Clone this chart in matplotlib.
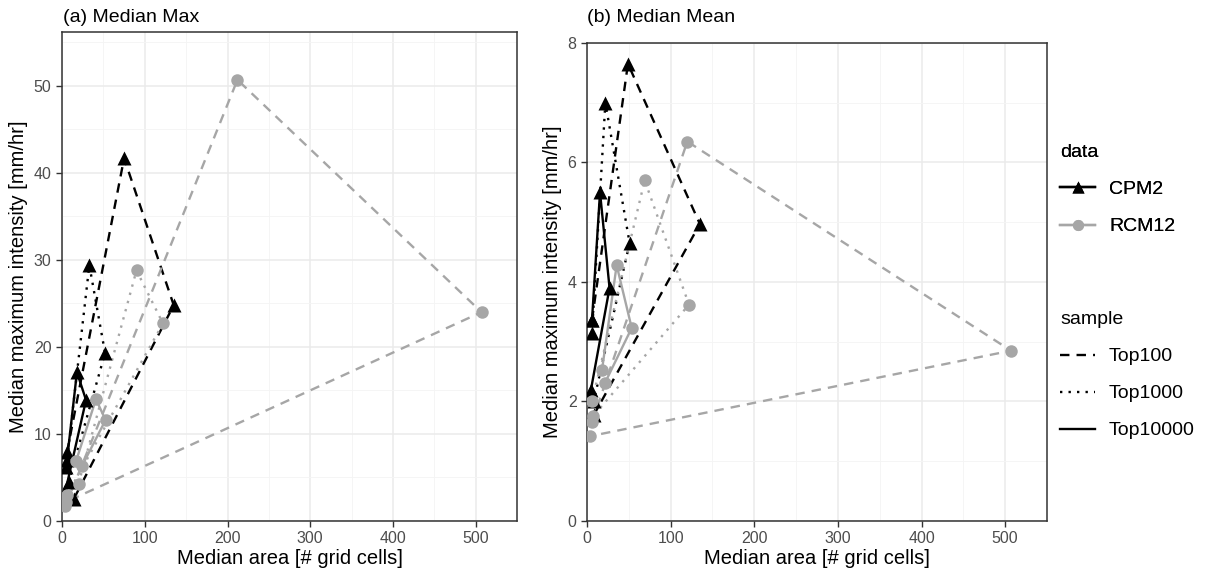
import numpy as np
import matplotlib.pyplot as plt
from matplotlib.lines import Line2D

plt.rcParams['font.family'] = ['Liberation Sans', 'DejaVu Sans']

samples = ['Top100', 'Top1000', 'Top10000']
datasets = ['CPM2', 'RCM12']

# panel (a) median max, 4 points per sample
max_cpm2_area = [[6, 75, 135, 14], [5, 33, 52, 8], [6, 18, 29, 4]]
max_cpm2_int = [[7.9, 41.7, 24.8, 2.5], [6.2, 29.4, 19.3, 4.5], [7.0, 17.1, 13.9, 3.4]]
max_rcm12_area = [[4, 212, 507, 5], [20, 90, 122, 6], [17, 41, 52.6, 24]]
max_rcm12_int = [[1.7, 50.7, 24.0, 2.2], [4.3, 28.8, 22.7, 3.0], [6.9, 14.0, 11.6, 6.3]]

# panel (b) median mean
mean_cpm2_area = [[6, 49, 135, 8], [6, 22, 51, 8], [6, 15.6, 27, 4.8]]
mean_cpm2_int = [[3.36, 7.65, 4.97, 1.77], [3.14, 7.0, 4.65, 2.0], [3.36, 5.5, 3.9, 2.2]]
mean_rcm12_area = [[6, 120, 507, 4], [6, 69, 122, 7], [18, 35.5, 53.5, 21.5]]
mean_rcm12_int = [[1.65, 6.35, 2.85, 1.42], [2.0, 5.7, 3.62, 1.75], [2.53, 4.28, 3.23, 2.31]]

colors = {'CPM2': 'black', 'RCM12': '#a6a6a6'}
markers = {'CPM2': '^', 'RCM12': 'o'}
msize = {'CPM2': 10, 'RCM12': 9}
styles = {'Top100': (0, (4, 3)), 'Top1000': (0, (1, 2.6)), 'Top10000': '-'}

fig = plt.figure(figsize=(12.07, 5.76), dpi=100)
ax_a = fig.add_axes([0.0514, 0.0955, 0.3770, 0.849])
ax_b = fig.add_axes([0.4863, 0.0955, 0.3811, 0.830])

panels = [
    (ax_a, '(a) Median Max', {'CPM2': (max_cpm2_area, max_cpm2_int),
                              'RCM12': (max_rcm12_area, max_rcm12_int)},
     56.2, np.arange(0, 51, 10), np.arange(5, 56, 10), 544),
    (ax_b, '(b) Median Mean', {'CPM2': (mean_cpm2_area, mean_cpm2_int),
                               'RCM12': (mean_rcm12_area, mean_rcm12_int)},
     8.0, np.arange(0, 9, 2), np.arange(1, 8, 2), 550),
]

for ax, title, data, ymax, yt, ymin_t, xmax in panels:
    ax.set_xlim(0, xmax)
    ax.set_ylim(0, ymax)
    ax.set_xticks(np.arange(0, 501, 100))
    ax.set_xticks(np.arange(50, 551, 100), minor=True)
    ax.set_yticks(yt)
    ax.set_yticks(ymin_t, minor=True)
    ax.grid(True, which='major', color='#ebebeb', lw=1.1, zorder=0)
    ax.grid(True, which='minor', color='#f4f4f4', lw=0.6, zorder=0)
    ax.set_axisbelow(True)
    ax.tick_params(which='minor', length=0)
    ax.tick_params(which='major', length=4, width=1, color='#333333',
                   labelcolor='#4d4d4d', labelsize=11.5)
    for s in ax.spines.values():
        s.set_color('#333333')
        s.set_linewidth(1.1)
    ax.set_xlabel('Median area [# grid cells]', fontsize=14.5, labelpad=2)
    ax.set_ylabel('Median maximum intensity [mm/hr]', fontsize=14.5, labelpad=4)

    for d in datasets:
        xs, ys = data[d]
        for i, s in enumerate(samples):
            ax.plot(xs[i], ys[i], color=colors[d], ls=styles[s], lw=1.7, zorder=2)
    for d in datasets:
        xs, ys = data[d]
        for i, s in enumerate(samples):
            ax.plot(xs[i], ys[i], ls='none', marker=markers[d], ms=msize[d],
                    color=colors[d], mec='none', zorder=3)

fig.text(63 / 1207, 1 - 18 / 576, '(a) Median Max', fontsize=14, va='center', ha='left')
fig.text(587 / 1207, 1 - 18 / 576, '(b) Median Mean', fontsize=14, va='center', ha='left')

data_handles = [Line2D([], [], color=colors[d], marker=markers[d], ms=msize[d] - 1,
                       mec='none', lw=1.7) for d in datasets]
sample_handles = [Line2D([], [], color='black', ls=styles[s], lw=1.7) for s in samples]

leg1 = fig.legend(data_handles, datasets, title='data', loc='upper left',
                  bbox_to_anchor=(0.864, 0.78), frameon=False, fontsize=14,
                  title_fontsize=14, handlelength=1.8, handletextpad=0.7,
                  labelspacing=1.0, alignment='left')
fig.add_artist(leg1)
fig.legend(sample_handles, samples, title='sample', loc='upper left',
           bbox_to_anchor=(0.864, 0.49), frameon=False, fontsize=14,
           title_fontsize=14, handlelength=1.8, handletextpad=0.7,
           labelspacing=1.0, alignment='left')

fig.savefig('out.png', dpi=100)
